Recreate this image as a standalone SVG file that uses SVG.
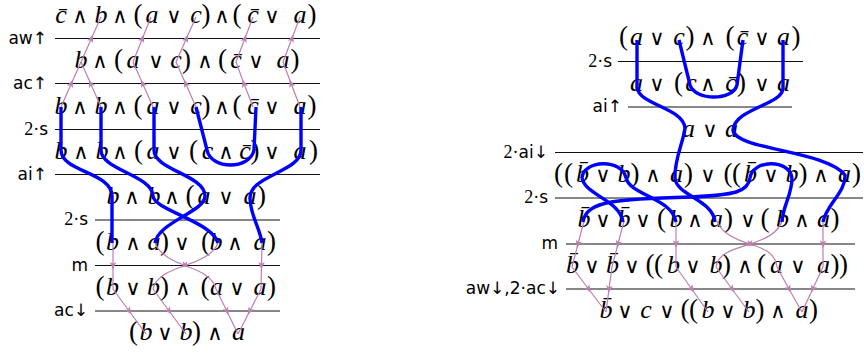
<svg xmlns="http://www.w3.org/2000/svg" width="864" height="353" viewBox="0 0 864 353">
<style>
text{text-anchor:middle;fill:#000}
.v{font-family:"Liberation Serif",serif;font-style:italic;font-size:26px}
.o{font-family:"DejaVu Sans",sans-serif;font-size:21px}
.p{font-family:"Liberation Serif",serif;font-size:27px}
text.lab{font-family:"DejaVu Sans",sans-serif;font-size:17px;text-anchor:end}
.n{font-family:"Liberation Serif",serif;font-size:18px}
.rule{stroke:#111;stroke-width:1;fill:none}
.pk{stroke:#bb80b0;stroke-width:1.2;fill:none;marker-mid:url(#ah)}
.bl{stroke:#0000ff;stroke-width:3.4;fill:none;stroke-linecap:butt;stroke-linejoin:round}
</style>
<defs>
<marker id="ah" markerUnits="userSpaceOnUse" markerWidth="12" markerHeight="12" viewBox="-6 -6 12 12" refX="0" refY="0" orient="auto">
<path d="M-3.5,-3.2 L4,0 L-3.5,3.2 L-1.8,0 Z" fill="#bb80b0"/>
</marker>
</defs>

<g id="rules">
<line class="rule" x1="55" y1="38.5" x2="320" y2="38.5"/>
<line class="rule" x1="55" y1="83.5" x2="320" y2="83.5"/>
<line class="rule" x1="55" y1="129.5" x2="320" y2="129.5"/>
<line class="rule" x1="55" y1="174.5" x2="320" y2="174.5"/>
<line class="rule" x1="95" y1="220" x2="280" y2="220"/>
<line class="rule" x1="95" y1="265.5" x2="280" y2="265.5"/>
<line class="rule" x1="95" y1="311" x2="280" y2="311"/>
<line class="rule" x1="618" y1="61.5" x2="803" y2="61.5"/>
<line class="rule" x1="628" y1="107" x2="792" y2="107"/>
<line class="rule" x1="555" y1="152.5" x2="863" y2="152.5"/>
<line class="rule" x1="555" y1="198" x2="863" y2="198"/>
<line class="rule" x1="566" y1="244" x2="855" y2="244"/>
<line class="rule" x1="566" y1="289" x2="855" y2="289"/>
</g>

<g id="labels">
<text class="lab" x="47" y="44">aw↑</text>
<text class="lab" x="47" y="89">ac↑</text>
<text class="lab" x="48" y="135"><tspan class="n">2·</tspan>s</text>
<text class="lab" x="47" y="180">ai↑</text>
<text class="lab" x="88" y="225"><tspan class="n">2·</tspan>s</text>
<text class="lab" x="88" y="271">m</text>
<text class="lab" x="88" y="316">ac↓</text>
<text class="lab" x="612" y="67"><tspan class="n">2·</tspan>s</text>
<text class="lab" x="622" y="112">ai↑</text>
<text class="lab" x="548" y="158"><tspan class="n">2·</tspan>ai↓</text>
<text class="lab" x="548" y="203"><tspan class="n">2·</tspan>s</text>
<text class="lab" x="558" y="249">m</text>
<text class="lab" x="560" y="294">aw↓,2·ac↓</text>
</g>

<g id="L1"><text y="23"><tspan class="v" x="61">c&#x304;</tspan><tspan class="o" x="80">∧</tspan><tspan class="v" x="101">b</tspan><tspan class="o" x="120">∧</tspan><tspan class="p" x="138">(</tspan><tspan class="v" x="152">a</tspan><tspan class="o" x="174">∨</tspan><tspan class="v" x="196">c</tspan><tspan class="p" x="206">)</tspan><tspan class="o" x="222">∧</tspan><tspan class="p" x="237">(</tspan><tspan class="v" x="253">c&#x304;</tspan><tspan class="o" x="272">∨</tspan><tspan class="v" x="300">a</tspan><tspan class="p" x="312">)</tspan></text></g>
<g id="L2"><text y="68"><tspan class="v" x="81">b</tspan><tspan class="o" x="100">∧</tspan><tspan class="p" x="118.5">(</tspan><tspan class="v" x="133">a</tspan><tspan class="o" x="156">∨</tspan><tspan class="v" x="176">c</tspan><tspan class="p" x="186.5">)</tspan><tspan class="o" x="205">∧</tspan><tspan class="p" x="222.5">(</tspan><tspan class="v" x="236">c&#x304;</tspan><tspan class="o" x="256">∨</tspan><tspan class="v" x="283">a</tspan><tspan class="p" x="295">)</tspan></text></g>
<g id="L3"><text y="113.5"><tspan class="v" x="61">b</tspan><tspan class="o" x="80">∧</tspan><tspan class="v" x="101">b</tspan><tspan class="o" x="120">∧</tspan><tspan class="p" x="138">(</tspan><tspan class="v" x="153">a</tspan><tspan class="o" x="174">∨</tspan><tspan class="v" x="196">c</tspan><tspan class="p" x="206">)</tspan><tspan class="o" x="222">∧</tspan><tspan class="p" x="237">(</tspan><tspan class="v" x="253">c&#x304;</tspan><tspan class="o" x="272">∨</tspan><tspan class="v" x="300">a</tspan><tspan class="p" x="312">)</tspan></text></g>
<g id="L4"><text y="159"><tspan class="v" x="61">b</tspan><tspan class="o" x="81">∧</tspan><tspan class="v" x="102">b</tspan><tspan class="o" x="120">∧</tspan><tspan class="p" x="138.5">(</tspan><tspan class="v" x="153">a</tspan><tspan class="o" x="174">∨</tspan><tspan class="p" x="193.5">(</tspan><tspan class="v" x="207.5">c</tspan><tspan class="o" x="226">∧</tspan><tspan class="v" x="245">c&#x304;</tspan><tspan class="p" x="255">)</tspan><tspan class="o" x="272">∨</tspan><tspan class="v" x="300">a</tspan><tspan class="p" x="313.5">)</tspan></text></g>
<g id="L5"><text y="204"><tspan class="v" x="113">b</tspan><tspan class="o" x="132">∧</tspan><tspan class="v" x="154">b</tspan><tspan class="o" x="172">∧</tspan><tspan class="p" x="190">(</tspan><tspan class="v" x="204">a</tspan><tspan class="o" x="226">∨</tspan><tspan class="v" x="250">a</tspan><tspan class="p" x="261.5">)</tspan></text></g>
<g id="L6"><text y="249.5"><tspan class="p" x="100">(</tspan><tspan class="v" x="112.5">b</tspan><tspan class="o" x="133">∧</tspan><tspan class="v" x="154">a</tspan><tspan class="p" x="164.5">)</tspan><tspan class="o" x="182">∨</tspan><tspan class="p" x="205.5">(</tspan><tspan class="v" x="216">b</tspan><tspan class="o" x="235">∧</tspan><tspan class="v" x="260">a</tspan><tspan class="p" x="271.5">)</tspan></text></g>
<g id="L7"><text y="295"><tspan class="p" x="100">(</tspan><tspan class="v" x="112.5">b</tspan><tspan class="o" x="133">∨</tspan><tspan class="v" x="153.5">b</tspan><tspan class="p" x="164.5">)</tspan><tspan class="o" x="183">∧</tspan><tspan class="p" x="205">(</tspan><tspan class="v" x="216.5">a</tspan><tspan class="o" x="237">∨</tspan><tspan class="v" x="260">a</tspan><tspan class="p" x="271.5">)</tspan></text></g>
<g id="L8"><text y="340"><tspan class="p" x="133.5">(</tspan><tspan class="v" x="146">b</tspan><tspan class="o" x="165">∨</tspan><tspan class="v" x="186">b</tspan><tspan class="p" x="196.5">)</tspan><tspan class="o" x="215">∧</tspan><tspan class="v" x="238.5">a</tspan></text></g>

<g id="R1"><text y="45"><tspan class="p" x="623.5">(</tspan><tspan class="v" x="636.5">a</tspan><tspan class="o" x="657">∨</tspan><tspan class="v" x="679">c</tspan><tspan class="p" x="690">)</tspan><tspan class="o" x="708">∧</tspan><tspan class="p" x="730">(</tspan><tspan class="v" x="742.5">c&#x304;</tspan><tspan class="o" x="762">∨</tspan><tspan class="v" x="783.5">a</tspan><tspan class="p" x="796">)</tspan></text></g>
<g id="R2"><text y="91"><tspan class="v" x="636.5">a</tspan><tspan class="o" x="657">∨</tspan><tspan class="p" x="678.5">(</tspan><tspan class="v" x="691">c</tspan><tspan class="o" x="708">∧</tspan><tspan class="v" x="731">c&#x304;</tspan><tspan class="p" x="741.5">)</tspan><tspan class="o" x="762">∨</tspan><tspan class="v" x="783.5">a</tspan></text></g>
<g id="R3"><text y="137"><tspan class="v" x="688.5">a</tspan><tspan class="o" x="710">∨</tspan><tspan class="v" x="731.5">a</tspan></text></g>
<g id="R4"><text y="182"><tspan class="p" x="558.5">(</tspan><tspan class="p" x="568.5">(</tspan><tspan class="v" x="582.5">b&#x304;</tspan><tspan class="o" x="603">∨</tspan><tspan class="v" x="624">b</tspan><tspan class="p" x="635">)</tspan><tspan class="o" x="653">∧</tspan><tspan class="v" x="676.5">a</tspan><tspan class="p" x="688.5">)</tspan><tspan class="o" x="708">∨</tspan><tspan class="p" x="728">(</tspan><tspan class="p" x="736.5">(</tspan><tspan class="v" x="750.5">b&#x304;</tspan><tspan class="o" x="771">∨</tspan><tspan class="v" x="792">b</tspan><tspan class="p" x="803">)</tspan><tspan class="o" x="821">∧</tspan><tspan class="v" x="844.5">a</tspan><tspan class="p" x="856.5">)</tspan></text></g>
<g id="R5"><text y="227"><tspan class="v" x="584">b&#x304;</tspan><tspan class="o" x="603">∨</tspan><tspan class="v" x="624">b&#x304;</tspan><tspan class="o" x="643">∨</tspan><tspan class="p" x="661.5">(</tspan><tspan class="v" x="676">b</tspan><tspan class="o" x="695">∧</tspan><tspan class="v" x="716.5">a</tspan><tspan class="p" x="728.5">)</tspan><tspan class="o" x="748">∨</tspan><tspan class="p" x="765">(</tspan><tspan class="v" x="782.5">b</tspan><tspan class="o" x="802">∧</tspan><tspan class="v" x="823.5">a</tspan><tspan class="p" x="835">)</tspan></text></g>
<g id="R6"><text y="273"><tspan class="v" x="572.5">b&#x304;</tspan><tspan class="o" x="592">∨</tspan><tspan class="v" x="612.5">b&#x304;</tspan><tspan class="o" x="632">∨</tspan><tspan class="p" x="650">(</tspan><tspan class="p" x="658.5">(</tspan><tspan class="v" x="673.5">b</tspan><tspan class="o" x="693">∨</tspan><tspan class="v" x="716">b</tspan><tspan class="p" x="726.5">)</tspan><tspan class="o" x="745">∧</tspan><tspan class="p" x="761.5">(</tspan><tspan class="v" x="776.5">a</tspan><tspan class="o" x="798">∨</tspan><tspan class="v" x="823.5">a</tspan><tspan class="p" x="835">)</tspan><tspan class="p" x="843.5">)</tspan></text></g>
<g id="R7"><text y="318"><tspan class="v" x="606">b&#x304;</tspan><tspan class="o" x="625">∨</tspan><tspan class="v" x="646">c</tspan><tspan class="o" x="667">∨</tspan><tspan class="p" x="685">(</tspan><tspan class="p" x="693.5">(</tspan><tspan class="v" x="708">b</tspan><tspan class="o" x="728">∨</tspan><tspan class="v" x="749">b</tspan><tspan class="p" x="760">)</tspan><tspan class="o" x="778">∧</tspan><tspan class="v" x="802">a</tspan><tspan class="p" x="813.5">)</tspan></text></g>

<g id="connectors">
<path class="pk" d="M61,107 L71.4,83.5 L81,62"/>
<path class="pk" d="M101,107 L90.6,83.5 L81,62"/>
<path class="pk" d="M153,107 L142.6,83.5 L133,62"/>
<path class="pk" d="M196,107 L185.6,83.5 L176,62"/>
<path class="pk" d="M253,107 L243.9,83.5 L236,62"/>
<path class="pk" d="M300,107 L291.1,83.5 L283,62"/>
<path class="pk" d="M81,62 L91.4,38.5 L101,17"/>
<path class="pk" d="M133,62 L142.4,38.5 L151,17"/>
<path class="pk" d="M176,62 L186.4,38.5 L196,17"/>
<path class="pk" d="M236,62 L244.9,38.5 L253,17"/>
<path class="pk" d="M283,62 L291.9,38.5 L300,17"/>

<path class="pk" d="M113,243 L113,265.5 L113,289"/>
<path class="pk" d="M155,243 C160,256 175,262 185,265.5 C197,270 213,276 216,289"/>
<path class="pk" d="M218,243 C213,256 195,262 185,265.5 C172,270 156,276 153,289"/>
<path class="pk" d="M262,243 L261.5,265.5 L261,289"/>
<path class="pk" d="M113,289 L129.1,311 L146,334"/>
<path class="pk" d="M153,289 L169.1,311 L186,334"/>
<path class="pk" d="M216,289 L226.8,311 L238,334"/>
<path class="pk" d="M261,289 L249.8,311 L238,334"/>

<path class="pk" d="M584,221 L578,244 L572,267"/>
<path class="pk" d="M624,221 L618,244 L612,267"/>
<path class="pk" d="M676,221 L676,244 L676,267"/>
<path class="pk" d="M717,221 C722,235 740,241 750,244 C762,248 775,252 777,267"/>
<path class="pk" d="M782,221 C778,235 760,241 750,244 C738,248 718,252 716,267"/>
<path class="pk" d="M823,221 L823,244 L823,267"/>
<path class="pk" d="M572,267 L588.6,289 L606,312"/>
<path class="pk" d="M612,267 L609,289 L606,312"/>
<path class="pk" d="M676,267 L691.7,289 L708,312"/>
<path class="pk" d="M716,267 L732,289 L749,312"/>
<path class="pk" d="M777,267 L789,289 L802,312"/>
<path class="pk" d="M823,267 L812.7,289 L802,312"/>

<path class="bl" d="M61,107 V150 C61,172 112,172 112,196 V243"/>
<path class="bl" d="M101,107 V150 C101,170 152,175 153,196 C154,210 213,222 218,243"/>
<path class="bl" d="M154,107 V150 C154,170 205,175 205,196 C205,212 158,222 155,243"/>
<path class="bl" d="M196,107 L207,150 C211,170 250,170 254,150 L256,107"/>
<path class="bl" d="M301,107 V150 C301,172 250,175 250,198 C250,215 260,228 262,243"/>

<path class="bl" d="M637,40 V88 C640,105 683,108 685,128 C684,140 674,160 675,178 C676,195 713,200 715,222"/>
<path class="bl" d="M679,40 L690,85 C695,101 733,101 737,85 L743,40"/>
<path class="bl" d="M783,40 V88 C783,105 735,108 733,130 C735,150 825,150 845,175 C846,192 826,205 823,222"/>
<path class="bl" d="M582,178 C583,160 622,158 626,178"/>
<path class="bl" d="M582,178 C585,195 620,200 623,222"/>
<path class="bl" d="M626,178 C630,195 672,198 676,222"/>
<path class="bl" d="M750,178 C752,160 789,158 792,178"/>
<path class="bl" d="M750,178 C748,192 735,195 690,197 C620,199 586,200 583,222"/>
<path class="bl" d="M792,178 C792,195 783,205 782,222"/>
</g>
</svg>
